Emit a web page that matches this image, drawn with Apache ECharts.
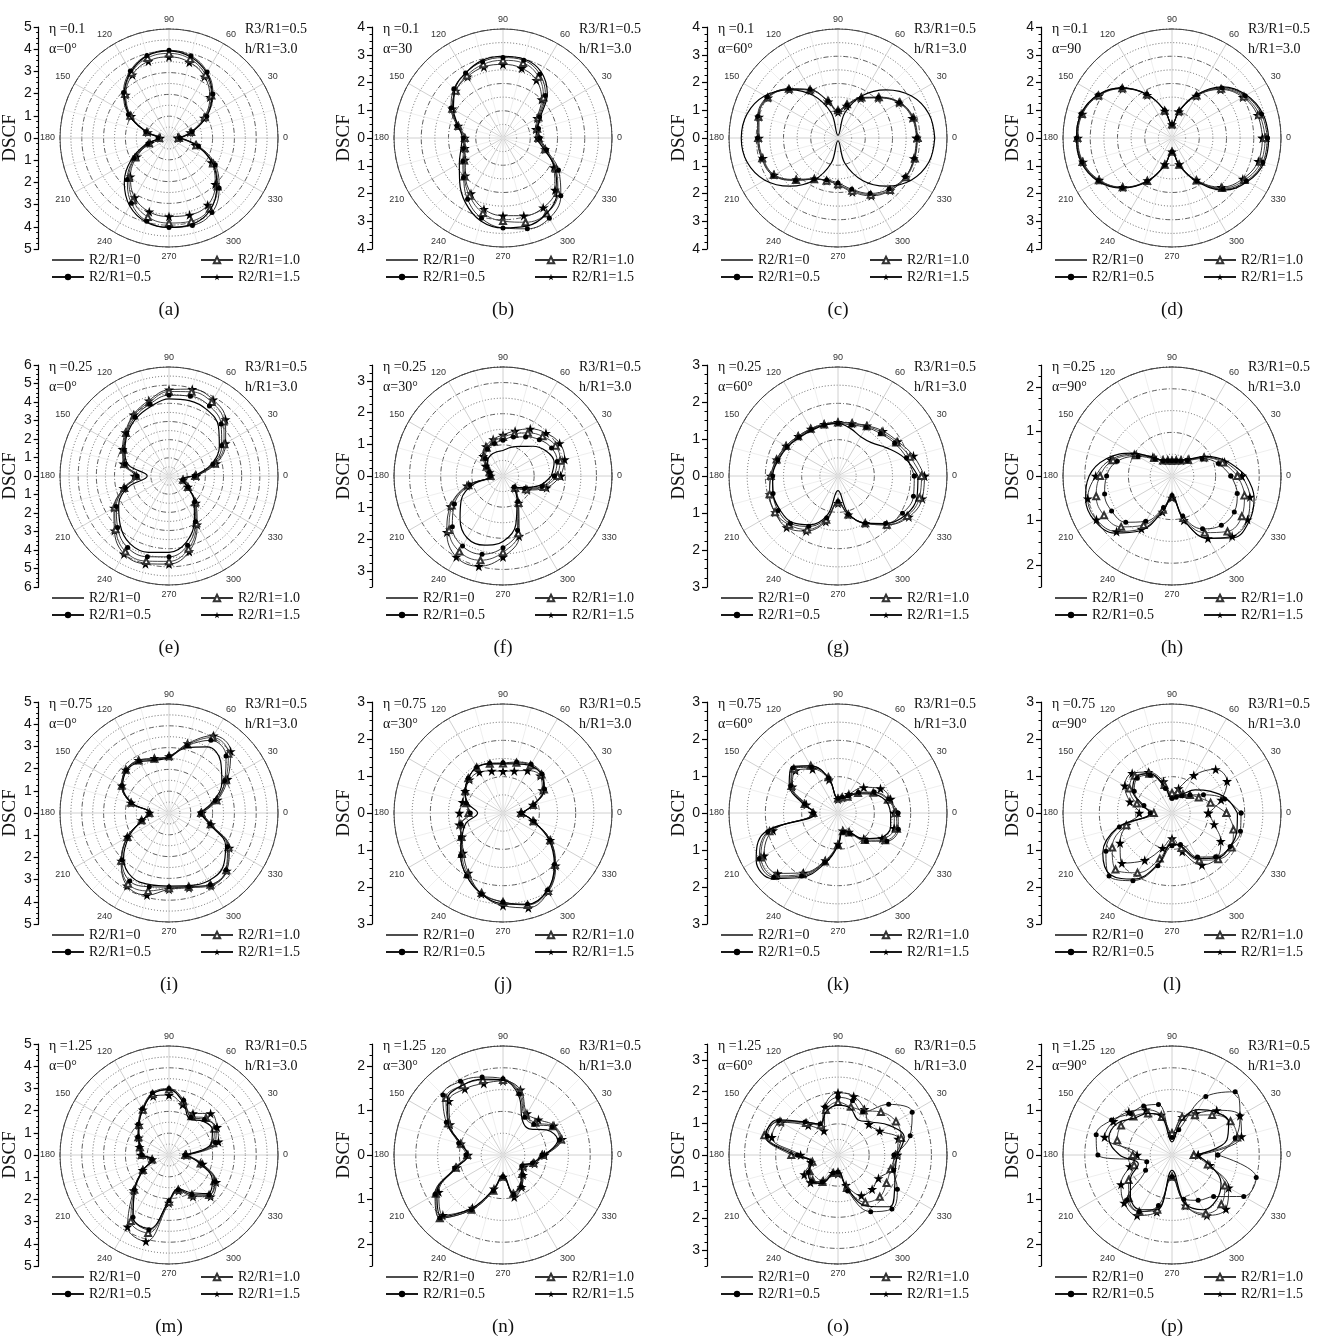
<!DOCTYPE html>
<html><head><meta charset="utf-8">
<script src="https://cdn.jsdelivr.net/npm/echarts@6/dist/echarts.min.js"></script>
<style>html,body{margin:0;padding:0;background:#fff}#c{width:1325px;height:1342px}</style>
</head><body><div id="c"></div>
<script>
// ---------- labels ----------
const panelIds = ['a','b','c','d','e','f','g','h','i','j','k','l','m','n','o','p'];
const etaLabels = ['η =0.1','η =0.1','η =0.1','η =0.1','η =0.25','η =0.25','η =0.25','η =0.25',
                   'η =0.75','η =0.75','η =0.75','η =0.75','η =1.25','η =1.25','η =1.25','η =1.25'];
const alphaLabels = ['α=0°','α=30','α=60°','α=90','α=0°','α=30°','α=60°','α=90°',
                     'α=0°','α=30°','α=60°','α=90°','α=0°','α=30°','α=60°','α=90°'];
const r3Label = 'R3/R1=0.5';
const hLabel = 'h/R1=3.0';
const seriesNames = ['R2/R1=0','R2/R1=0.5','R2/R1=1.0','R2/R1=1.5'];
const radialMax = [5,4,4,4, 6,3.5,3,2.5, 5,3,3,3, 5,2.5,3.5,2.5];
const angles = [0,15,30,45,60,75,90,105,120,135,150,165,180,195,210,225,240,255,270,285,300,315,330,345];

// ---------- data (DSCF at each angle) ----------
const a_r0  = [0.5,1.1,2.0,2.8,3.45,3.85,4.0,3.9,3.5,2.9,2.1,1.1,0.5,1.1,2.0,2.9,3.6,4.0,4.1,4.1,3.8,3.1,2.3,1.3];
const a_r05 = [0.5,1.1,2.0,2.85,3.5,3.9,4.02,3.92,3.55,2.95,2.15,1.1,0.5,1.0,1.85,2.7,3.45,3.95,4.1,4.15,3.95,3.25,2.45,1.4];
const a_r10 = [0.45,1.05,1.9,2.75,3.35,3.75,3.88,3.8,3.45,2.85,2.05,1.05,0.45,0.95,1.8,2.6,3.3,3.75,3.9,3.95,3.75,3.15,2.35,1.3];
const a_r15 = [0.4,1.0,1.85,2.65,3.25,3.6,3.72,3.65,3.35,2.8,2.0,1.0,0.4,0.9,1.7,2.5,3.15,3.5,3.6,3.65,3.55,3.0,2.25,1.25];

const b_r0  = [1.2,1.3,1.6,2.3,2.8,3.0,3.0,2.95,2.75,2.5,2.1,1.7,1.5,1.6,1.85,2.25,2.75,3.15,3.3,3.35,3.2,2.8,2.2,1.55];
const b_r05 = [1.35,1.35,1.55,2.2,2.7,2.95,2.95,2.9,2.75,2.55,2.2,1.75,1.45,1.5,1.7,2.05,2.6,3.05,3.3,3.45,3.4,3.0,2.35,1.65];
const b_r10 = [1.3,1.3,1.5,2.1,2.6,2.85,2.85,2.8,2.65,2.45,2.15,1.7,1.4,1.45,1.65,2.0,2.45,2.85,3.05,3.2,3.2,2.85,2.25,1.6];
const b_r15 = [1.3,1.25,1.45,2.0,2.45,2.65,2.7,2.7,2.6,2.45,2.15,1.7,1.4,1.45,1.6,1.95,2.35,2.7,2.85,2.95,2.95,2.7,2.15,1.6];

const c_r0  = [3.55,3.45,3.1,2.5,1.8,0.95,0.1,0.95,1.8,2.5,3.1,3.45,3.55,3.45,3.1,2.5,1.8,0.95,0.1,0.95,1.8,2.5,3.1,3.45];
const c_r05 = [2.9,2.85,2.6,2.1,1.7,1.25,1.0,1.4,2.05,2.55,3.0,3.05,2.95,2.9,2.75,2.2,1.75,1.6,1.65,1.95,2.35,2.65,2.85,2.9];
const c_r10 = [2.92,2.87,2.62,2.12,1.72,1.28,1.02,1.42,2.05,2.55,2.98,3.02,2.93,2.88,2.72,2.18,1.75,1.62,1.7,2.0,2.4,2.7,2.88,2.92];
const c_r15 = [2.88,2.82,2.58,2.08,1.68,1.22,0.95,1.38,2.02,2.52,2.96,3.0,2.9,2.85,2.7,2.15,1.72,1.62,1.72,2.05,2.45,2.72,2.86,2.88];

const d_r0  = [3.55,3.45,3.15,2.65,1.85,1.05,0.5,1.05,1.85,2.6,3.15,3.45,3.5,3.45,3.15,2.6,1.85,1.05,0.5,1.05,1.85,2.7,3.2,3.5];
const d_r05 = [3.5,3.4,3.1,2.6,1.82,1.03,0.5,1.05,1.85,2.6,3.15,3.45,3.5,3.42,3.12,2.58,1.83,1.03,0.5,1.03,1.82,2.65,3.15,3.45];
const d_r10 = [3.42,3.32,3.05,2.55,1.8,1.02,0.5,1.04,1.84,2.58,3.12,3.42,3.47,3.4,3.1,2.56,1.82,1.02,0.5,1.02,1.8,2.6,3.08,3.38];
const d_r15 = [3.32,3.25,3.0,2.52,1.78,1.0,0.5,1.03,1.82,2.56,3.1,3.4,3.45,3.38,3.08,2.55,1.8,1.0,0.5,1.0,1.78,2.55,3.0,3.28];

const e_r0  = [1.35,2.4,3.2,3.85,4.2,4.3,4.25,3.95,3.65,3.25,2.8,2.3,1.2,2.3,3.2,3.8,4.3,4.35,4.2,3.75,2.8,1.95,1.15,0.75];
const e_r05 = [1.4,2.5,3.35,4.05,4.45,4.55,4.45,4.1,3.75,3.3,2.85,2.5,1.75,2.5,3.35,4.0,4.55,4.6,4.45,3.95,2.9,2.0,1.2,0.8];
const e_r10 = [1.45,2.6,3.5,4.25,4.7,4.8,4.65,4.2,3.85,3.35,2.9,2.55,1.8,2.55,3.45,4.15,4.8,4.85,4.7,4.15,3.0,2.05,1.2,0.8];
const e_r15 = [1.5,2.7,3.6,4.4,4.85,4.95,4.75,4.3,3.9,3.4,2.95,2.6,1.9,2.6,3.5,4.25,4.95,5.0,4.85,4.3,3.1,2.1,1.2,0.8];

const f_r0  = [1.55,1.7,1.6,1.35,1.1,0.95,0.82,0.8,0.78,0.7,0.55,0.4,0.35,0.95,1.55,1.95,2.3,2.3,2.1,1.6,0.9,0.5,0.75,1.2];
const f_r05 = [1.65,1.8,1.8,1.65,1.45,1.3,1.15,1.08,1.0,0.8,0.6,0.45,0.4,1.1,1.8,2.3,2.6,2.6,2.3,1.8,0.95,0.5,0.8,1.3];
const f_r10 = [1.75,1.9,1.95,1.8,1.6,1.4,1.25,1.15,1.05,0.85,0.6,0.45,0.4,1.15,1.9,2.45,2.8,2.8,2.45,1.9,1.0,0.55,0.85,1.35];
const f_r15 = [1.85,2.05,2.1,1.95,1.75,1.5,1.32,1.22,1.1,0.9,0.65,0.45,0.4,1.2,1.95,2.55,3.0,3.0,2.6,2.0,1.0,0.55,0.9,1.45];

const g_r0  = [2.2,1.9,1.55,1.3,1.25,1.35,1.45,1.45,1.45,1.5,1.6,1.7,1.8,1.85,1.85,1.8,1.55,1.1,0.4,1.05,1.5,1.85,2.15,2.25];
const g_r05 = [2.1,1.95,1.8,1.65,1.55,1.45,1.45,1.45,1.48,1.52,1.62,1.72,1.8,1.85,1.9,1.85,1.6,1.2,0.7,1.1,1.5,1.85,2.05,2.15];
const g_r10 = [2.3,2.05,1.85,1.7,1.58,1.5,1.47,1.47,1.5,1.55,1.65,1.75,1.85,1.95,2.0,1.9,1.7,1.25,0.72,1.1,1.5,1.9,2.2,2.32];
const g_r15 = [2.38,2.15,1.9,1.75,1.6,1.5,1.48,1.48,1.5,1.55,1.65,1.75,1.85,1.95,2.0,2.0,1.75,1.3,0.75,1.1,1.5,1.9,2.25,2.4];

const h_r0  = [1.7,1.3,0.9,0.55,0.42,0.38,0.36,0.38,0.42,0.6,1.05,1.55,1.9,2.05,2.05,1.85,1.45,0.85,0.5,1.05,1.65,2.0,2.05,1.95];
const h_r05 = [1.35,1.1,0.8,0.5,0.4,0.36,0.35,0.36,0.4,0.55,0.9,1.3,1.5,1.6,1.6,1.5,1.2,0.75,0.45,0.95,1.4,1.6,1.65,1.55];
const h_r10 = [1.5,1.2,0.85,0.52,0.41,0.37,0.35,0.37,0.41,0.58,0.95,1.4,1.65,1.8,1.8,1.65,1.3,0.8,0.47,1.0,1.5,1.8,1.85,1.72];
const h_r15 = [1.6,1.25,0.85,0.55,0.42,0.38,0.36,0.38,0.42,0.62,1.0,1.45,1.75,2.0,2.0,1.8,1.4,0.85,0.5,1.05,1.65,1.95,2.0,1.85];

const i_r0  = [1.4,2.1,2.8,3.35,3.5,3.1,2.55,2.5,2.7,2.75,2.45,1.75,0.85,1.25,2.1,2.95,3.4,3.4,3.35,3.45,3.6,3.5,3.0,1.9];
const i_r05 = [1.45,2.2,2.95,3.7,3.85,3.2,2.6,2.55,2.75,2.78,2.5,1.8,0.9,1.3,2.2,3.05,3.6,3.5,3.4,3.5,3.8,3.7,3.1,1.95];
const i_r10 = [1.48,2.25,3.0,3.85,4.0,3.25,2.6,2.58,2.78,2.8,2.5,1.8,0.9,1.3,2.2,3.1,3.75,3.7,3.45,3.5,3.8,3.72,3.15,1.98];
const i_r15 = [1.5,2.3,3.1,4.0,4.1,3.3,2.6,2.6,2.8,2.8,2.5,1.8,0.9,1.3,2.2,3.1,3.85,3.9,3.5,3.55,3.85,3.75,3.2,2.0];

const j_r0  = [0.5,0.85,1.3,1.5,1.5,1.4,1.35,1.4,1.45,1.35,1.2,1.0,0.7,1.05,1.3,1.65,2.0,2.3,2.5,2.6,2.45,2.0,1.45,0.85];
const j_r05 = [0.5,0.88,1.32,1.52,1.55,1.45,1.38,1.42,1.45,1.35,1.2,1.05,0.9,1.2,1.35,1.65,2.0,2.3,2.45,2.6,2.45,2.0,1.5,0.88];
const j_r10 = [0.5,0.86,1.3,1.5,1.52,1.43,1.36,1.4,1.45,1.35,1.2,1.05,0.95,1.2,1.32,1.6,1.95,2.28,2.45,2.62,2.48,2.02,1.5,0.87];
const j_r15 = [0.5,0.85,1.25,1.45,1.35,1.2,1.15,1.2,1.3,1.3,1.2,1.15,1.2,1.25,1.3,1.55,1.9,2.3,2.55,2.7,2.5,2.05,1.5,0.85];

const k_r0  = [1.45,1.35,1.05,0.75,0.5,0.42,0.4,1.0,1.5,1.8,1.55,1.0,0.62,2.1,2.6,2.55,2.05,1.45,0.9,0.5,0.6,1.0,1.35,1.5];
const k_r05 = [1.65,1.45,1.15,0.8,0.55,0.45,0.4,1.0,1.45,1.75,1.5,0.95,0.68,2.0,2.5,2.5,2.0,1.4,0.9,0.55,0.65,1.1,1.55,1.72];
const k_r10 = [1.6,1.42,1.12,0.78,0.52,0.44,0.4,1.02,1.5,1.72,1.48,0.95,0.68,1.95,2.45,2.45,1.95,1.38,0.88,0.52,0.62,1.05,1.5,1.68];
const k_r15 = [1.55,1.5,1.35,1.0,0.6,0.45,0.38,0.95,1.4,1.65,1.45,0.9,0.7,1.85,2.35,2.35,1.9,1.35,0.85,0.5,0.6,1.0,1.4,1.6];

const l_r0  = [1.8,1.55,1.2,0.9,0.6,0.45,0.4,0.75,1.25,1.4,1.25,0.85,0.6,1.55,2.2,2.4,2.1,1.45,0.85,0.95,1.45,1.75,1.85,1.85];
const l_r05 = [1.9,1.5,1.0,0.7,0.55,0.45,0.4,0.7,1.2,1.35,1.2,0.8,0.6,1.5,2.1,2.45,2.15,1.5,0.9,0.9,1.4,1.7,1.85,1.95];
const l_r10 = [1.5,1.1,0.85,0.7,0.6,0.6,0.55,0.8,1.25,1.45,1.35,1.0,0.5,1.3,1.9,2.2,1.9,1.3,0.8,1.0,1.5,1.8,1.9,1.75];
const l_r15 = [1.0,1.4,1.75,1.7,1.2,0.7,0.5,0.9,1.3,1.55,1.5,1.2,0.9,1.3,1.65,1.95,1.5,1.0,0.7,1.1,1.65,1.75,1.55,1.2];

const m_r0  = [0.7,2.0,2.3,2.2,1.9,2.5,3.0,2.9,2.4,1.95,1.6,1.35,1.2,0.75,1.35,2.2,3.3,3.5,2.1,1.6,2.0,2.5,2.3,1.45];
const m_r05 = [0.75,2.2,2.5,2.3,2.0,2.6,3.05,2.95,2.45,2.0,1.65,1.4,1.25,0.8,1.4,2.25,3.3,3.55,2.1,1.65,2.1,2.6,2.45,1.55];
const m_r10 = [0.75,2.1,2.4,2.4,2.05,2.55,3.0,2.9,2.4,1.95,1.62,1.38,1.25,0.8,1.38,2.25,3.5,3.7,2.15,1.65,2.1,2.6,2.4,1.5];
const m_r15 = [0.8,2.35,2.55,2.7,2.2,2.4,2.75,2.8,2.4,1.95,1.6,1.4,1.3,0.8,1.4,2.3,3.8,4.1,2.2,1.7,2.2,2.7,2.5,1.6];

const n_r0  = [0.95,1.3,1.15,0.85,0.9,1.4,1.72,1.8,1.85,1.8,1.45,1.0,0.8,1.1,1.75,2.0,1.4,0.8,0.45,0.9,0.8,0.6,0.5,0.7];
const n_r05 = [0.9,1.35,1.3,1.0,1.0,1.45,1.75,1.85,1.95,1.95,1.5,1.05,0.85,1.15,1.8,2.05,1.45,0.85,0.5,0.95,0.85,0.65,0.5,0.7];
const n_r10 = [0.9,1.38,1.32,1.05,1.05,1.5,1.72,1.78,1.85,1.85,1.45,1.0,0.82,1.12,1.78,2.05,1.45,0.85,0.5,0.92,0.82,0.62,0.52,0.72];
const n_r15 = [0.95,1.4,1.35,1.15,1.1,1.55,1.7,1.7,1.75,1.75,1.4,1.0,0.8,1.1,1.7,1.95,1.4,0.8,0.5,1.0,0.85,0.65,0.55,0.75];

const o_r0  = [1.9,2.2,1.9,1.5,1.3,1.55,1.6,1.45,1.15,1.5,2.25,2.4,1.4,0.85,1.1,1.2,1.05,0.6,0.5,1.1,1.9,2.35,2.1,1.9];
const o_r05 = [1.8,2.4,2.75,2.3,1.6,1.8,1.85,1.6,1.15,1.5,2.2,2.35,1.3,0.9,1.1,1.2,1.0,0.6,0.55,1.2,2.1,2.45,2.2,1.85];
const o_r10 = [1.85,2.1,2.15,1.95,1.65,1.6,1.7,1.5,1.1,1.45,2.15,2.45,1.5,0.85,1.05,1.15,1.0,0.6,0.55,1.1,1.75,1.9,1.8,1.75];
const o_r15 = [1.9,2.0,1.55,1.4,1.7,1.95,2.0,1.6,0.9,1.35,2.1,2.2,1.2,0.9,1.25,1.25,0.95,0.6,0.6,1.0,1.5,1.55,1.5,1.8];

const p_r0  = [0.55,1.3,1.5,1.4,1.2,0.8,0.3,0.9,1.1,1.2,1.45,1.5,1.2,0.8,1.1,1.35,1.45,1.3,0.35,1.15,1.45,1.45,1.3,0.9];
const p_r05 = [1.05,1.5,1.8,2.05,1.55,0.6,0.4,1.2,1.3,1.35,1.6,1.8,1.7,0.6,0.7,1.45,1.5,1.2,0.5,1.05,1.2,1.35,1.9,2.0];
const p_r10 = [0.5,1.55,1.55,1.3,1.05,0.9,0.5,0.9,1.1,1.25,1.35,1.3,0.9,0.9,1.15,1.4,1.5,1.3,0.5,1.2,1.55,1.6,1.4,0.85];
const p_r15 = [0.6,1.65,1.8,1.45,1.1,0.9,0.5,0.95,1.2,1.4,1.55,1.6,0.8,1.0,1.35,1.55,1.6,1.35,0.5,1.2,1.6,1.75,1.5,0.9];

const panelSeries = [
  [a_r0,a_r05,a_r10,a_r15],[b_r0,b_r05,b_r10,b_r15],[c_r0,c_r05,c_r10,c_r15],[d_r0,d_r05,d_r10,d_r15],
  [e_r0,e_r05,e_r10,e_r15],[f_r0,f_r05,f_r10,f_r15],[g_r0,g_r05,g_r10,g_r15],[h_r0,h_r05,h_r10,h_r15],
  [i_r0,i_r05,i_r10,i_r15],[j_r0,j_r05,j_r10,j_r15],[k_r0,k_r05,k_r10,k_r15],[l_r0,l_r05,l_r10,l_r15],
  [m_r0,m_r05,m_r10,m_r15],[n_r0,n_r05,n_r10,n_r15],[o_r0,o_r05,o_r10,o_r15],[p_r0,p_r05,p_r10,p_r15]
];

// ---------- layout ----------
const colX = [169, 503, 838, 1172];
const rowY = [138, 476, 813, 1155];
const R = 109;       // polar radius
const AX = 111;      // half height of the DSCF axis
const SERIF = '"Liberation Serif", "Times New Roman", serif';
const SANS = '"Liberation Sans", Arial, sans-serif';
const STAR = 'path://M50,0 L61,35 L98,35 L68,57 L79,91 L50,70 L21,91 L32,57 L2,35 L39,35 Z';
const LINE_ICON = 'path://M0,0 H80 V3.5 H0 Z';

const seriesStyles = [
  {symbol:'none', lineStyle:{color:'#000', width:1.2}, itemStyle:{color:'#000'}},
  {symbol:'circle', symbolSize:5, lineStyle:{color:'#1a1a1a', width:0.9}, itemStyle:{color:'#000'}},
  {symbol:'emptyTriangle', symbolSize:6, lineStyle:{color:'#333', width:0.9}, itemStyle:{color:'#333', borderWidth:0.9}},
  {symbol:STAR, symbolSize:10, lineStyle:{color:'#1a1a1a', width:0.9}, itemStyle:{color:'#000'}}
];

const option = {
  animation:false, backgroundColor:'#fff',
  polar:[], angleAxis:[], radiusAxis:[], grid:[], xAxis:[], yAxis:[], legend:[], series:[], graphic:[]
};

for (let i = 0; i < 16; i++) {
  const cx = colX[i % 4], cy = rowY[Math.floor(i / 4)], M = radialMax[i];
  const pA = 2 * i, pB = 2 * i + 1;
  option.polar.push({center:[cx, cy], radius:R});
  option.polar.push({center:[cx, cy], radius:R});
  option.angleAxis.push({
    polarIndex:pA, type:'value', min:0, max:360, interval:30, startAngle:0, clockwise:false,
    axisLine:{show:true, lineStyle:{color:'#444', width:1}},
    axisTick:{show:false},
    axisLabel:{show:true, fontSize:9, color:'#333', fontFamily:SANS, margin:5},
    splitLine:{show:true, lineStyle:{color:'#c4c4c4', width:0.8}},
    minorTick:{show:false, splitNumber:2},
    minorSplitLine:{show:true, lineStyle:{color:'#e2e2e2', width:0.6}}
  });
  option.angleAxis.push({
    polarIndex:pB, type:'value', min:0, max:360, startAngle:0, clockwise:false,
    axisLine:{show:false}, axisTick:{show:false}, axisLabel:{show:false}, splitLine:{show:false}
  });
  option.radiusAxis.push({
    polarIndex:pA, type:'value', min:0, max:M, interval:1,
    axisLine:{show:false}, axisTick:{show:false}, axisLabel:{show:false},
    splitLine:{show:true, lineStyle:{color:'#333', width:0.8, type:[5,2,1,2]}}
  });
  option.radiusAxis.push({
    polarIndex:pB, type:'value', min:0, max:M, interval:0.5,
    axisLine:{show:false}, axisTick:{show:false}, axisLabel:{show:false},
    splitLine:{show:true, lineStyle:{color:['transparent','#444'], width:0.8, type:[1,2]}}
  });

  // left DSCF axis
  const majors = [];
  for (let v = -Math.floor(M); v <= Math.floor(M); v++) majors.push(v);
  option.grid.push({left:cx - 131, top:cy - AX, width:1, height:2 * AX});
  option.xAxis.push({gridIndex:i, type:'value', show:false, min:0, max:1});
  option.yAxis.push({
    gridIndex:i, type:'value', position:'left', min:-M, max:M,
    axisLine:{show:true, onZero:false, lineStyle:{color:'#000', width:1.2}},
    axisTick:{show:true, length:5, customValues:majors, lineStyle:{color:'#000', width:1.2}},
    axisLabel:{show:true, customValues:majors, formatter:(v) => String(Math.abs(v)), fontSize:14, color:'#111', fontFamily:SANS, margin:7},
    splitLine:{show:false},
    name:'DSCF', nameLocation:'middle', nameRotate:90, nameGap:13,
    nameTextStyle:{fontFamily:SERIF, fontSize:19, color:'#111'}
  });
  option.yAxis.push({
    gridIndex:i, type:'value', position:'left', min:-M, max:M, interval:0.25,
    axisLine:{show:false, onZero:false}, axisTick:{show:true, length:2.5, lineStyle:{color:'#000', width:1}},
    axisLabel:{show:false}, splitLine:{show:false}
  });

  // legends (two columns)
  const legBase = {orient:'vertical', top:cy + 115, itemWidth:32, itemHeight:8, itemGap:3, padding:0,
    selectedMode:false, textStyle:{fontFamily:SERIF, fontSize:14, color:'#111'}};
  option.legend.push(Object.assign({}, legBase, {left:cx - 118,
    data:[{name:seriesNames[0], icon:LINE_ICON}, seriesNames[1]]}));
  option.legend.push(Object.assign({}, legBase, {left:cx + 31, data:[seriesNames[2], seriesNames[3]]}));

  // series
  for (let s = 0; s < 4; s++) {
    const vals = panelSeries[i][s];
    const data = angles.map((a, k) => [vals[k], a]);
    data.push([vals[0], 360]);
    option.series.push(Object.assign({
      type:'line', name:seriesNames[s], coordinateSystem:'polar', polarIndex:pA,
      data:data, smooth:0.4, z:10 - s
    }, seriesStyles[s]));
  }

  // annotations
  const txt = (x, y, text, size, align) => ({type:'text', x:x, y:y, z:100,
    style:{text:text, font:size + 'px ' + SERIF, fill:'#111', textAlign:align || 'left', textVerticalAlign:'middle'}});
  option.graphic.push(txt(cx - 120, cy - 109, etaLabels[i], 14));
  option.graphic.push(txt(cx - 120, cy - 89, alphaLabels[i], 14));
  option.graphic.push(txt(cx + 76, cy - 109, r3Label, 14));
  option.graphic.push(txt(cx + 76, cy - 89, hLabel, 14));
  option.graphic.push(txt(cx, cy + 172, '(' + panelIds[i] + ')', 19, 'center'));
}

const chart = echarts.init(document.getElementById('c'), null, {renderer:'canvas'});
chart.setOption(option);
</script></body></html>
